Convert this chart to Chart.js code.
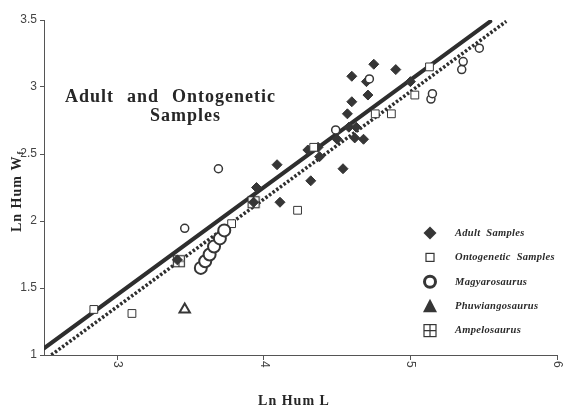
<!DOCTYPE html>
<html>
<head>
<meta charset="utf-8">
<script src="https://cdn.jsdelivr.net/npm/chart.js@4"></script>
<style>
  html, body { margin: 0; padding: 0; background: #fff; }
</style>
</head>
<body>
<canvas id="chart" width="565" height="408"></canvas>
<script>
// values
const xTicks = [3, 4, 5, 6];
const yTicks = [1, 1.5, 2, 2.5, 3, 3.5];

const adultX = [3.41, 3.93, 3.95, 4.09, 4.11, 4.30, 4.32, 4.37, 4.38, 4.50, 4.54, 4.57, 4.60, 4.58, 4.63, 4.62, 4.68, 4.60, 4.70, 4.71, 4.75, 4.90, 5.00];
const adultY = [1.71, 2.14, 2.25, 2.42, 2.14, 2.53, 2.30, 2.55, 2.48, 2.61, 2.39, 2.80, 2.89, 2.70, 2.70, 2.62, 2.61, 3.08, 3.04, 2.94, 3.17, 3.13, 3.04];

const ontoX = [2.84, 3.10, 3.78, 4.23, 4.34, 4.76, 4.87, 5.03, 5.13];
const ontoY = [1.34, 1.31, 1.98, 2.08, 2.55, 2.80, 2.80, 2.94, 3.15];

const magyaroBigX = [3.57, 3.60, 3.63, 3.66, 3.70, 3.73];
const magyaroBigY = [1.65, 1.70, 1.75, 1.81, 1.87, 1.93];
const magyaroSmallX = [3.46, 3.69, 4.49, 4.72, 5.14, 5.15, 5.35, 5.36, 5.47];
const magyaroSmallY = [1.945, 2.39, 2.68, 3.06, 2.91, 2.95, 3.13, 3.19, 3.29];

const phuwiangX = [3.46];
const phuwiangY = [1.34];

const ampeloX = [3.42, 3.93];
const ampeloY = [1.70, 2.14];

// regression lines (end points)
const adultLineX = [2.5, 5.545];
const adultLineY = [1.05, 3.49];
const ontoLineX = [2.55, 5.654];
const ontoLineY = [1.0, 3.49];

const legendLabels = ['Adult  Samples', 'Ontogenetic  Samples', 'Magyarosaurus', 'Phuwiangosaurus', 'Ampelosaurus'];

const ink = '#363636';

function pts(xs, ys) {
  return xs.map((x, i) => ({ x: x, y: ys[i] }));
}

function drawAmpelo(ctx, cx, cy, half) {
  ctx.save();
  ctx.strokeStyle = ink;
  ctx.lineWidth = 1.2;
  ctx.fillStyle = '#fff';
  ctx.fillRect(cx - half, cy - half, half * 2, half * 2);
  ctx.strokeRect(cx - half, cy - half, half * 2, half * 2);
  ctx.beginPath();
  ctx.moveTo(cx - half, cy); ctx.lineTo(cx + half, cy);
  ctx.moveTo(cx, cy - half); ctx.lineTo(cx, cy + half);
  ctx.stroke();
  ctx.restore();
}

// point image for Ampelosaurus (square with a cross)
const ampeloImg = document.createElement('canvas');
ampeloImg.width = 14;
ampeloImg.height = 14;
drawAmpelo(ampeloImg.getContext('2d'), 7, 7, 5.5);

const decorations = {
  id: 'decorations',
  afterDraw(chart) {
    const ctx = chart.ctx;
    const area = chart.chartArea;
    const xs = chart.scales.x;
    ctx.save();

    // x tick labels, turned a quarter clockwise
    ctx.fillStyle = '#444';
    ctx.font = '12px "Liberation Sans", Arial, sans-serif';
    ctx.textAlign = 'left';
    ctx.textBaseline = 'middle';
    xTicks.forEach(v => {
      ctx.save();
      ctx.translate(xs.getPixelForValue(v), area.bottom + 6);
      ctx.rotate(Math.PI / 2);
      ctx.fillText(String(v), 0, 0);
      ctx.restore();
    });

    // heading inside the plot
    ctx.fillStyle = '#262626';
    ctx.font = 'bold 18px "Liberation Serif", "Times New Roman", serif';
    ctx.letterSpacing = '1px';
    ctx.textBaseline = 'alphabetic';
    ctx.fillText('Adult', area.left + 21, 102);
    ctx.fillText('and', area.left + 83, 102);
    ctx.fillText('Ontogenetic', area.left + 128, 102);
    ctx.fillText('Samples', area.left + 106, 121);

    // axis titles
    ctx.font = 'bold 14px "Liberation Serif", "Times New Roman", serif';
    ctx.textAlign = 'center';
    ctx.fillText('Ln Hum L', 294, 405);

    ctx.save();
    ctx.translate(21, 232);
    ctx.rotate(-Math.PI / 2);
    ctx.textAlign = 'left';
    ctx.fillText('Ln Hum W', 0, 0);
    const w = ctx.measureText('Ln Hum W').width;
    ctx.font = 'bold 9px "Liberation Serif", "Times New Roman", serif';
    ctx.fillText('f', w + 1, 2);
    ctx.restore();

    // legend
    ctx.letterSpacing = '0.3px';
    ctx.font = 'italic bold 10.5px "Liberation Serif", "Times New Roman", serif';
    ctx.textAlign = 'left';
    ctx.textBaseline = 'middle';
    const mx = 430, tx = 455;
    legendLabels.forEach((label, i) => {
      const my = 233 + i * 24.4;
      ctx.fillStyle = ink;
      ctx.strokeStyle = ink;
      ctx.beginPath();
      if (i === 0) {
        ctx.moveTo(mx, my - 6.5); ctx.lineTo(mx + 6.5, my); ctx.lineTo(mx, my + 6.5); ctx.lineTo(mx - 6.5, my);
        ctx.closePath(); ctx.fill();
      } else if (i === 1) {
        ctx.lineWidth = 1.2;
        ctx.strokeRect(mx - 4, my - 4, 8, 8);
      } else if (i === 2) {
        ctx.lineWidth = 3;
        ctx.arc(mx, my, 5.5, 0, Math.PI * 2);
        ctx.stroke();
      } else if (i === 3) {
        ctx.moveTo(mx, my - 7.5); ctx.lineTo(mx + 7, my + 6); ctx.lineTo(mx - 7, my + 6);
        ctx.closePath(); ctx.fill();
      } else {
        drawAmpelo(ctx, mx, my, 6);
      }
      ctx.fillStyle = '#2a2a2a';
      ctx.fillText(label, tx, my);
    });
    ctx.letterSpacing = '0px';
    ctx.restore();
  }
};

new Chart(document.getElementById('chart'), {
  type: 'scatter',
  data: {
    datasets: [
      {
        label: 'Adult Samples',
        data: pts(adultX, adultY),
        pointStyle: 'rectRot',
        radius: 5,
        backgroundColor: ink,
        borderColor: ink,
        borderWidth: 1,
        order: 3
      },
      {
        label: 'Ontogenetic Samples',
        data: pts(ontoX, ontoY),
        pointStyle: 'rect',
        radius: 5.5,
        backgroundColor: '#fff',
        borderColor: ink,
        borderWidth: 1,
        order: 2
      },
      {
        label: 'Magyarosaurus',
        data: pts(magyaroBigX, magyaroBigY),
        pointStyle: 'circle',
        radius: 6,
        backgroundColor: '#fff',
        borderColor: ink,
        borderWidth: 2,
        order: 1
      },
      {
        label: 'Magyarosaurus',
        data: pts(magyaroSmallX, magyaroSmallY),
        pointStyle: 'circle',
        radius: 4,
        backgroundColor: '#fff',
        borderColor: ink,
        borderWidth: 1.5,
        order: 1
      },
      {
        label: 'Phuwiangosaurus',
        data: pts(phuwiangX, phuwiangY),
        pointStyle: 'triangle',
        radius: 6,
        backgroundColor: '#fff',
        borderColor: ink,
        borderWidth: 2,
        order: 1
      },
      {
        label: 'Ampelosaurus',
        data: pts(ampeloX, ampeloY),
        pointStyle: ampeloImg,
        order: 4
      },
      {
        label: 'Adult fit',
        data: pts(adultLineX, adultLineY),
        showLine: true,
        pointRadius: 0,
        borderColor: '#2e2e2e',
        borderWidth: 4,
        borderCapStyle: 'round',
        order: 10
      },
      {
        label: 'Ontogenetic fit',
        data: pts(ontoLineX, ontoLineY),
        showLine: true,
        pointRadius: 0,
        borderColor: '#2e2e2e',
        borderWidth: 3.5,
        borderDash: [2.5, 2],
        order: 11
      }
    ]
  },
  options: {
    responsive: false,
    animation: false,
    layout: { padding: { top: 20, right: 6, left: 0, bottom: 0 } },
    plugins: {
      legend: { display: false },
      tooltip: { enabled: false }
    },
    scales: {
      x: {
        type: 'linear',
        min: 2.5,
        max: 6,
        afterBuildTicks: s => { s.ticks = xTicks.map(v => ({ value: v })); },
        afterFit: s => { s.height = 53; },
        ticks: { display: false },
        grid: { drawOnChartArea: false, tickLength: 5, color: '#555' },
        border: { color: '#555', width: 1 }
      },
      y: {
        type: 'linear',
        min: 1,
        max: 3.5,
        afterBuildTicks: s => { s.ticks = yTicks.map(v => ({ value: v })); },
        afterFit: s => { s.width = 44; },
        ticks: {
          color: '#444',
          padding: 3,
          font: { family: '"Liberation Sans", Arial, sans-serif', size: 12 },
          callback: v => String(v)
        },
        grid: { drawOnChartArea: false, tickLength: 4, color: '#555' },
        border: { color: '#555', width: 1 }
      }
    }
  },
  plugins: [decorations]
});
</script>
</body>
</html>
